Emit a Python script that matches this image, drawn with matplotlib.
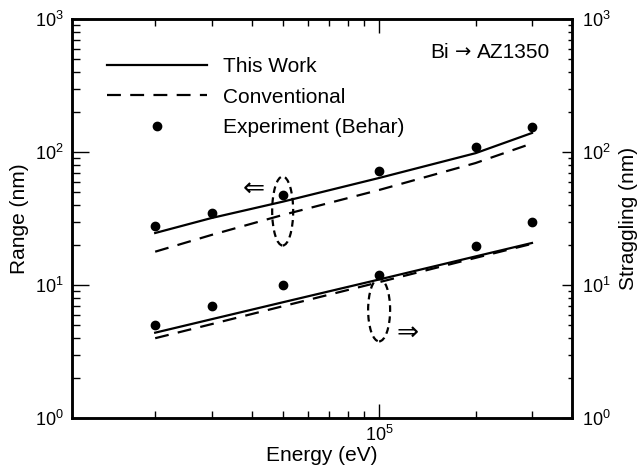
import numpy as np
import matplotlib
matplotlib.use('Agg')
import matplotlib.pyplot as plt
from matplotlib.patches import Ellipse
from matplotlib.lines import Line2D
from matplotlib.ticker import LogLocator, NullFormatter
from matplotlib.offsetbox import TextArea, HPacker, AnchoredOffsetbox

plt.rcParams['font.family'] = ['Liberation Sans', 'DejaVu Sans']
plt.rcParams['mathtext.fontset'] = 'custom'
plt.rcParams['mathtext.rm'] = 'Liberation Sans'
plt.rcParams['mathtext.it'] = 'Liberation Sans:italic'

# ---- data ----
energy = [2e4, 3e4, 5e4, 1e5, 2e5, 3e5]
range_this_work = [24.6, 31.9, 42.3, 63.8, 98.0, 139.0]
range_conventional = [17.8, 23.8, 33.6, 51.8, 82.6, 116.0]
range_exp = [27.9, 34.8, 47.5, 71.9, 109.0, 153.0]
strag_this_work = [4.38, 5.53, 7.41, 11.0, 16.4, 20.7]
strag_conventional = [3.98, 5.08, 6.92, 10.5, 16.0, 20.4]
strag_exp = [5.0, 7.0, 10.0, 11.9, 19.8, 29.8]

W, H = 642, 470
FS = 15      # labels / legend
TFS = 13     # tick labels
fig = plt.figure(figsize=(W / 100, H / 100), dpi=100)
ax = fig.add_axes([72 / W, 52 / H, 500 / W, 399 / H])
ax2 = ax.twinx()

for a in (ax, ax2):
    a.set_xscale('log')
    a.set_yscale('log')
    a.set_ylim(1, 1000)
ax.set_xlim(1.1e4, 4.0e5)

dash = (0, (6.25, 4.2))
lw = 1.6
ms = 6
ax.plot(energy, range_this_work, color='black', lw=lw)
ax.plot(energy, range_conventional, color='black', lw=lw, ls=dash)
ax.plot(energy, range_exp, 'o', color='black', ms=ms)
ax2.plot(energy, strag_this_work, color='black', lw=lw)
ax2.plot(energy, strag_conventional, color='black', lw=lw, ls=dash)
ax2.plot(energy, strag_exp, 'o', color='black', ms=ms)

# ticks
ax.xaxis.set_major_locator(LogLocator(base=10))
ax.xaxis.set_minor_locator(LogLocator(base=10, subs=np.arange(2, 10)))
ax.xaxis.set_minor_formatter(NullFormatter())
for a in (ax, ax2):
    a.yaxis.set_major_locator(LogLocator(base=10))
    a.yaxis.set_minor_locator(LogLocator(base=10, subs=np.arange(2, 10)))
    a.yaxis.set_minor_formatter(NullFormatter())

ax.tick_params(axis='x', which='both', direction='in', top=True, bottom=True,
               labelsize=TFS, pad=5, width=1)
ax.tick_params(axis='x', which='major', length=10)
ax.tick_params(axis='x', which='minor', length=5)
ax.tick_params(axis='y', which='both', direction='in', left=True, right=False,
               labelsize=TFS, pad=6, width=1)
ax.tick_params(axis='y', which='major', length=12)
ax.tick_params(axis='y', which='minor', length=6)
ax2.tick_params(axis='y', which='both', direction='in', left=False, right=True,
                labelsize=TFS, pad=7, width=1)
ax2.tick_params(axis='y', which='major', length=7)
ax2.tick_params(axis='y', which='minor', length=3)

for a in (ax, ax2):
    for s in a.spines.values():
        s.set_linewidth(1.8)

ax.set_xlabel('Energy (eV)', fontsize=FS, labelpad=1)
ax.set_ylabel('Range (nm)', fontsize=FS, labelpad=4)
ax2.set_ylabel('Straggling (nm)', fontsize=FS, labelpad=6)

# legend
handles = [Line2D([], [], color='black', lw=lw),
           Line2D([], [], color='black', lw=lw, ls=dash),
           Line2D([], [], color='black', ls='none', marker='o', ms=ms)]
labels = ['This Work', 'Conventional', 'Experiment (Behar)']
ax.legend(handles, labels, loc='upper left', bbox_to_anchor=(0.07, 0.905),
          frameon=False, fontsize=FS, handlelength=4.8, handletextpad=0.75,
          labelspacing=0.56, borderpad=0, borderaxespad=0, numpoints=1)

# "Bi -> AZ1350" label, arrow taken from DejaVu Sans
parts = [TextArea('Bi', textprops=dict(fontsize=FS, family='Liberation Sans')),
         TextArea('\u2192', textprops=dict(fontsize=FS - 1, family='DejaVu Sans')),
         TextArea('AZ1350', textprops=dict(fontsize=FS, family='Liberation Sans'))]
box = HPacker(children=parts, align='center', pad=0, sep=4)
anch = AnchoredOffsetbox(loc='center right', child=box, pad=0, borderpad=0,
                         frameon=False, bbox_to_anchor=(0.956, 0.917),
                         bbox_transform=ax.transAxes)
ax.add_artist(anch)

fig.canvas.draw()

def axes_frac(a, x, y):
    d = a.transData.transform((x, y))
    return a.transAxes.inverted().transform(d)

def add_ellipse(a, x, y, wpx, hpx):
    c = axes_frac(a, x, y)
    e = Ellipse(c, wpx / 500, hpx / 399, transform=a.transAxes, fill=False,
                lw=1.6, ls=(0, (3, 2)), color='black')
    a.add_patch(e)

add_ellipse(ax, 5e4, 36, 21, 69)
add_ellipse(ax, 1e5, 6.5, 22, 63)

ax.text(4.06e4, 52.7, '\u21D0', ha='center', va='center', fontsize=19,
        family=['DejaVu Sans'])
ax.text(1.23e5, 4.35, '\u21D2', ha='center', va='center', fontsize=19,
        family=['DejaVu Sans'])

fig.savefig('out.png', dpi=100)
